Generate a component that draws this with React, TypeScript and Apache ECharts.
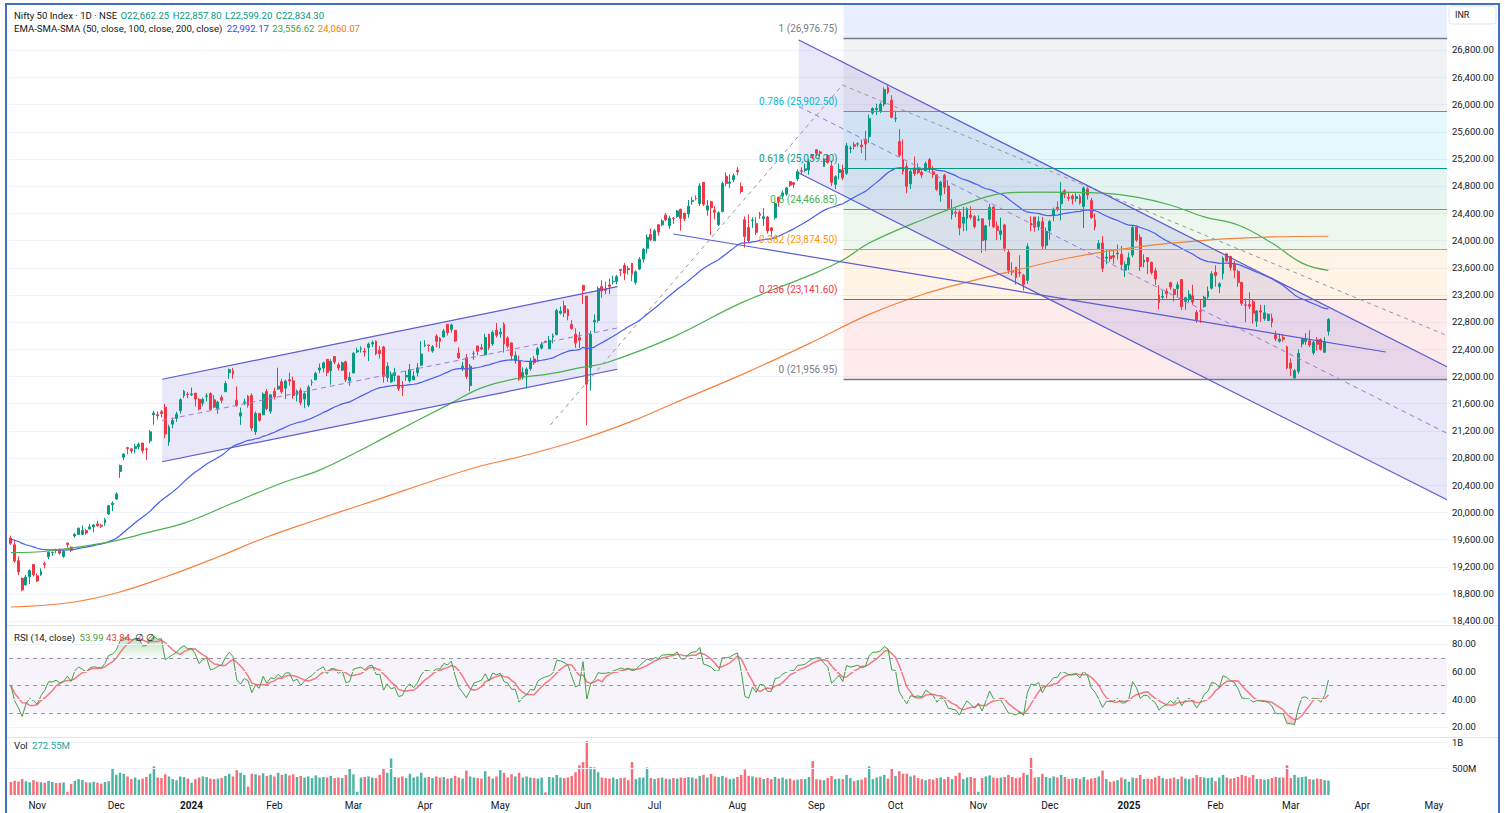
import React, { useEffect, useRef } from 'react';
import * as echarts from 'echarts';

// ---------------- data ----------------
const HOLIDAYS = [
  '2023-10-24', '2023-11-14', '2023-11-27', '2023-12-25',
  '2024-01-22', '2024-01-26', '2024-03-08', '2024-03-25', '2024-03-29', '2024-04-11', '2024-04-17',
  '2024-05-01', '2024-05-20', '2024-06-17', '2024-07-17', '2024-08-15', '2024-10-02', '2024-11-15',
  '2024-11-20', '2024-12-25',
  '2025-02-26', '2025-03-14', '2025-03-31', '2025-04-10', '2025-04-14', '2025-04-18', '2025-05-01',
];
const SPECIAL_SESSIONS = ['2023-11-12', '2024-01-20', '2024-03-02', '2024-05-18', '2025-02-01'];
const FIRST_DAY = '2023-10-20';
const LAST_AXIS_DAY = '2025-05-07';

// [open, close, low, high]
const OHLC: number[][] = [
  // Oct 2023
  [19620,19542,19518,19657],[19521,19282,19257,19593],[19286,19122,19075,19347],[19027,18857,18838,19041],
  [18929,19047,18926,19076],[19054,19141,18941,19158],[19232,19080,19057,19233],
  // Nov 2023
  [19064,18989,18973,19096],[19080,19133,19064,19175],[19241,19231,19175,19276],[19346,19412,19309,19423],
  [19405,19407,19359,19423],[19449,19443,19394,19464],[19457,19395,19378,19463],[19351,19425,19329,19451],
  [19547,19525,19480,19547],[19487,19443,19414,19495],[19651,19675,19623,19693],[19674,19765,19667,19775],
  [19674,19732,19674,19806],[19731,19694,19670,19756],[19754,19784,19742,19825],[19784,19812,19703,19825],
  [19828,19802,19785,19875],[19809,19795,19768,19832],[19844,19890,19800,19916],[19976,20097,19958,20104],
  [20109,20133,20015,20158],
  // Dec 2023
  [20194,20268,20183,20292],[20601,20687,20507,20702],[20809,20855,20767,20864],[20950,20937,20852,20961],
  [20932,20901,20867,20941],[20935,20969,20862,21006],[20966,20997,20923,21026],[21019,20906,20867,21019],
  [20929,20926,20769,20950],[21049,21183,21014,21210],[21434,21457,21287,21492],[21434,21419,21366,21482],
  [21477,21453,21395,21505],[21544,21150,21088,21593],[21034,21255,20977,21289],[21296,21349,21235,21390],
  [21381,21441,21330,21478],[21497,21655,21451,21675],[21716,21778,21679,21801],[21737,21731,21677,21770],
  // Jan 2024
  [21727,21742,21710,21834],[21752,21665,21555,21755],[21661,21518,21500,21677],[21605,21658,21564,21685],
  [21706,21711,21629,21750],[21747,21513,21492,21763],[21653,21545,21530,21724],[21529,21619,21449,21641],
  [21689,21647,21603,21726],[21773,21895,21773,21929],[22053,22097,21964,22115],[22080,22032,21964,22124],
  [21648,21572,21550,21851],[21414,21462,21285,21540],[21615,21622,21575,21671],[21707,21572,21539,21726],
  [21716,21239,21193,21750],[21185,21454,21137,21482],[21454,21353,21330,21459],[21433,21738,21431,21763],
  [21775,21522,21501,21813],[21487,21726,21448,21742],
  // Feb 2024
  [21781,21698,21659,21832],[21812,21854,21805,22127],[21921,21772,21742,21964],[21825,21929,21665,21951],
  [21950,21931,21860,22054],[21933,21718,21669,21996],[21727,21783,21629,21804],[21790,21616,21574,21831],
  [21664,21743,21530,21766],[21578,21840,21548,21870],[21907,21911,21860,21953],[21949,22041,21941,22069],
  [22093,22122,22045,22187],[22120,22197,22057,22216],[22249,22055,22005,22249],[22081,22218,21875,22252],
  [22291,22213,22180,22297],[22170,22122,22085,22202],[22090,22198,22075,22218],[22214,21951,21915,22229],
  [21935,21983,21860,22060],
  // Mar 2024
  [22048,22339,22048,22353],[22359,22379,22340,22420],[22403,22406,22348,22440],[22371,22356,22289,22416],
  [22423,22474,22224,22497],[22476,22494,22430,22526],[22517,22333,22309,22527],[22382,22335,22259,22446],
  [22432,21998,21906,22447],[21982,22147,21917,22205],[21917,22023,21905,22071],[22013,22056,21922,22125],
  [22005,21818,21783,22005],[21843,21839,21710,21930],[21989,22012,21932,22080],[21932,22097,21906,22180],
  [21947,22005,21947,22074],[22053,22124,21997,22193],[22163,22327,22150,22516],
  // Apr 2024
  [22455,22462,22428,22530],[22458,22453,22364,22470],[22371,22434,22347,22460],[22592,22515,22427,22620],
  [22556,22514,22412,22577],[22579,22666,22568,22698],[22765,22643,22600,22768],[22690,22754,22645,22775],
  [22677,22519,22503,22677],[22340,22272,22259,22427],[22125,22148,22079,22213],[22272,21996,21962,22326],
  [21862,22147,21777,22180],[22336,22336,22244,22376],[22447,22368,22306,22447],[22421,22402,22386,22476],
  [22316,22570,22305,22625],[22620,22419,22385,22620],[22475,22643,22446,22675],[22679,22604,22573,22783],
  // May 2024
  [22624,22648,22568,22711],[22767,22476,22348,22795],[22562,22442,22409,22588],[22489,22302,22232,22500],
  [22231,22303,22186,22369],[22224,21958,21932,22307],[21990,22055,21950,22131],[22028,22104,21822,22131],
  [22112,22218,22081,22271],[22255,22201,22170,22297],[22319,22404,22213,22432],[22415,22466,22395,22503],
  [22513,22502,22490,22525],[22405,22529,22404,22592],[22577,22597,22484,22630],[22615,22967,22600,22994],
  [22930,22957,22908,23026],[23039,22932,22871,23111],[22977,22888,22824,22998],[22763,22704,22685,22825],
  [22617,22488,22418,22705],[22568,22531,22417,22652],
  // Jun 2024
  [23338,23264,23062,23339],[23179,21884,21281,23180],[22128,22620,21791,22670],[22798,22821,22642,22911],
  [22821,23290,22789,23321],[23319,23259,23155,23412],[23284,23265,23207,23390],[23344,23323,23207,23441],
  [23390,23399,23354,23481],[23398,23466,23353,23490],[23570,23558,23473,23579],[23630,23516,23413,23665],
  [23586,23567,23497,23624],[23661,23501,23398,23667],[23382,23538,23350,23558],[23578,23721,23562,23754],
  [23723,23869,23673,23889],[23882,24044,23805,24087],[24085,24010,23986,24174],
  // Jul 2024
  [23993,24141,23992,24164],[24229,24124,24072,24236],[24228,24286,24207,24309],[24370,24302,24281,24401],
  [24213,24324,24168,24363],[24329,24321,24241,24344],[24351,24433,24331,24444],[24459,24324,24142,24461],
  [24400,24316,24283,24403],[24388,24502,24332,24593],[24572,24587,24523,24636],[24615,24613,24587,24662],
  [24543,24801,24505,24838],[24853,24531,24504,24854],[24445,24509,24362,24595],[24568,24479,24075,24582],
  [24444,24414,24308,24504],[24230,24406,24210,24426],[24423,24835,24410,24862],[24943,24836,24798,24999],
  [24839,24857,24771,24971],[24890,24951,24857,24984],
  // Aug 2024
  [25030,25011,24957,25078],[24789,24718,24686,24851],[24302,24056,23893,24350],[24190,23993,23960,24382],
  [24289,24297,24184,24337],[24248,24117,24079,24340],[24387,24368,24317,24419],[24320,24347,24212,24472],
  [24343,24139,24100,24359],[24184,24144,24049,24196],[24334,24541,24304,24563],[24636,24573,24494,24638],
  [24649,24698,24607,24734],[24680,24771,24654,24787],[24864,24811,24784,24868],[24846,24823,24772,24858],
  [24906,25010,24874,25043],[25024,25017,24973,25073],[25030,25052,25000,25129],[25035,25152,24965,25193],
  [25249,25236,25196,25268],
  // Sep 2024
  [25333,25279,25236,25333],[25300,25280,25235,25321],[25089,25198,25084,25216],[25250,25145,25127,25260],
  [25094,24852,24801,25168],[24823,24936,24753,24958],[24999,25041,24897,25130],[25035,24918,24885,25113],
  [24986,25389,24963,25433],[25352,25357,25285,25391],[25406,25384,25336,25445],[25416,25419,25376,25441],
  [25402,25377,25285,25482],[25488,25416,25176,25611],[25525,25791,25431,25849],[25873,25939,25848,25956],
  [25922,25940,25847,26011],[25899,26004,25871,26032],[26005,26216,25969,26250],[26248,26179,26151,26277],
  [26061,25811,25794,26135],
  // Oct 2024
  [25788,25797,25739,25907],[25452,25250,25230,25639],[25181,25015,24966,25486],[25085,24796,24694,25143],
  [24832,25013,24756,25044],[25066,24982,24947,25234],[25067,24998,24973,25134],[25002,24964,24920,25028],
  [25023,25128,25018,25159],[25187,25057,25008,25213],[25008,24971,24920,25093],[24963,24750,24728,24969],
  [24665,24854,24568,24877],[24956,24781,24680,24978],[24799,24472,24446,24882],[24378,24435,24307,24605],
  [24412,24399,24342,24480],[24418,24181,24074,24440],[24251,24339,24135,24492],[24323,24467,24141,24485],
  [24372,24341,24307,24498],[24349,24205,24173,24372],
  // Nov 2024
  [24302,24304,24280,24368],[24316,23995,23817,24316],[24005,24213,23843,24229],[24309,24484,24205,24537],
  [24489,24199,24179,24503],[24207,24148,24004,24276],[24087,24141,24004,24336],[24226,23883,23839,24242],
  [23822,23559,23509,23873],[23542,23533,23484,23675],[23606,23453,23350,23606],[23529,23518,23464,23780],
  [23488,23349,23263,23507],[23412,23907,23359,23956],[24254,24222,24135,24352],[24343,24194,24125,24343],
  [24204,24275,24146,24354],[24274,23914,23874,24345],[23927,24131,23873,24188],
  // Dec 2024
  [24140,24276,24009,24302],[24367,24457,24280,24481],[24488,24467,24422,24573],[24539,24708,24295,24857],
  [24729,24677,24620,24751],[24633,24619,24580,24705],[24652,24610,24528,24677],[24615,24641,24567,24691],
  [24642,24548,24527,24675],[24498,24768,24180,24792],[24753,24668,24601,24781],[24584,24336,24316,24625],
  [24297,24198,24149,24394],[23878,23952,23870,24004],[23961,23588,23537,24066],[23738,23753,23647,23869],
  [23769,23728,23685,23867],[23775,23750,23654,23854],[23801,23813,23717,23938],[23796,23645,23561,23915],
  [23561,23645,23460,23689],
  // Jan 2025
  [23637,23743,23562,23822],[23783,24189,23751,24226],[24196,24005,23976,24196],[24045,23616,23552,24089],
  [23680,23707,23602,23795],[23746,23689,23503,23751],[23675,23527,23496,23689],[23551,23432,23344,23596],
  [23195,23086,22987,23340],[23165,23176,23134,23264],[23250,23213,23147,23293],[23377,23312,23272,23391],
  [23277,23203,23100,23292],[23290,23345,23170,23391],[23422,23025,22976,23426],[23099,23155,22981,23169],
  [23129,23206,23090,23270],[23183,23092,23051,23347],[22941,22829,22786,22974],[22961,22957,22786,23137],
  [23027,23163,23011,23183],[23169,23250,23140,23322],[23296,23508,23278,23546],
  // Feb 2025
  [23528,23482,23318,23633],[23319,23361,23223,23382],[23509,23739,23423,23762],[23802,23696,23680,23807],
  [23761,23603,23556,23773],[23649,23560,23443,23695],[23543,23382,23316,23568],[23383,23072,23041,23390],
  [23050,23046,22798,23145],[23055,23031,22992,23236],[23097,22929,22774,23134],[22810,22960,22726,22975],
  [22963,22945,22801,23050],[22848,22933,22815,23050],[22821,22913,22812,22923],[22857,22796,22721,22923],
  [22609,22553,22518,22668],[22516,22548,22494,22626],[22568,22545,22508,22613],[22433,22125,22105,22450],
  // Mar 2025
  [22194,22119,22004,22262],[21974,22083,21965,22106],[22073,22337,22037,22394],[22476,22545,22425,22556],
  [22509,22553,22464,22633],[22522,22461,22430,22676],[22345,22498,22315,22523],[22536,22471,22377,22578],
  [22541,22397,22377,22558],[22353,22509,22353,22577],[22662.25,22834.30,22599.20,22857.80],
];

// Volume, millions
const VOLUME_M: number[] = [
  245,270,255,300,260,240,280,
  250,240,230,265,245,225,230,235,60,210,270,300,285,240,235,250,230,215,245,260,510,
  380,420,400,350,300,330,290,310,340,400,540,330,320,390,350,300,280,350,340,310,
  230,300,330,350,340,310,300,310,320,360,400,350,470,420,380,160,400,390,370,410,360,380,
  350,420,380,400,370,390,340,360,330,350,320,370,330,340,330,360,320,330,320,380,510,
  390,60,330,340,350,330,320,380,510,420,690,340,330,350,320,400,330,350,420,
  330,340,320,350,330,340,310,320,360,330,310,460,350,330,320,310,450,350,310,350,
  470,420,330,390,350,420,330,350,330,320,310,330,50,340,330,380,330,320,330,360,430,560,
  620,1020,530,520,430,330,320,310,330,300,320,330,280,620,300,330,330,520,320,
  300,320,330,310,300,320,310,330,320,340,330,310,360,380,330,400,350,340,360,330,300,310,
  340,380,480,360,350,330,330,300,320,300,340,310,330,300,310,280,290,300,300,340,640,
  300,290,280,320,360,300,310,300,380,320,260,280,290,330,540,300,330,350,380,310,500,
  360,450,400,400,350,370,320,300,280,300,290,320,330,300,340,300,360,420,300,330,340,320,
  60,320,350,370,330,320,330,340,380,340,320,330,420,380,700,330,340,400,340,
  320,350,330,380,340,300,310,320,300,340,290,310,320,350,460,300,250,260,280,330,300,
  250,330,320,380,300,310,300,330,360,320,300,310,330,300,350,310,300,320,380,340,330,320,330,
  260,330,380,330,310,320,340,380,360,330,380,300,300,290,300,320,340,330,330,560,
  320,380,330,340,350,300,290,310,300,280,272.55,
];

// Moving averages: [bar index, value]
const EMA50_SEED = 19600;
const SMA100_PTS: number[][] = [
  [0,19405],[10,19430],[26,19560],[37,19710],[46,19840],[59,20135],[72,20430],[82,20620],[93,20915],
  [99,21090],[117,21605],[125,21830],[135,21975],[143,22035],[152,22135],[158,22195],[176,22580],
  [194,23080],[212,23480],[221,23710],[228,23960],[242,24300],[255,24565],[264,24695],[273,24710],
  [290,24695],[299,24635],[308,24520],[317,24345],[326,24225],[335,23960],[343,23665],[350,23557],
];
const SMA200_PTS: number[][] = [
  [0,18606],[15,18665],[28,18812],[41,19047],[55,19342],[68,19636],[81,19886],[93,20107],[122,20636],
  [135,20813],[151,21063],[165,21340],[176,21600],[194,22020],[212,22480],[228,22910],[242,23200],
  [255,23400],[264,23520],[281,23740],[299,23900],[317,24000],[335,24050],[350,24060],
];
const RSI_SEED_GAIN = 35;
const RSI_SEED_LOSS = 35;
const RSI_MA_LEN = 5;

// Drawings: [bar index, price]
const RISE_UPPER = [[40.2, 21956], [161.1, 23318]];
const RISE_LOWER = [[40.2, 20743], [161.1, 22103]];
const DESC_UPPER = [[209.3, 26947], [381.5, 22140]];
const DESC_LOWER = [[209.3, 24990], [381.5, 20183]];
const NECK_LINE = [[176.0, 24093], [365.2, 22357]];
const TREND_UP = [[143.3, 21283], [220.9, 26285]];
const TREND_DOWN = [[220.9, 26285], [381.5, 22600]];
const FIB_START = 221.2;
const FIB_END = 381.5;
const FIB_LEVELS: [string, number, string][] = [
  ['1', 26976.75, '#787b86'],
  ['0.786', 25902.50, '#00bcd4'],
  ['0.618', 25059.20, '#089981'],
  ['0.5', 24466.85, '#4caf50'],
  ['0.382', 23874.50, '#ff9800'],
  ['0.236', 23141.60, '#f23645'],
  ['0', 21956.95, '#787b86'],
];
const PRICE_TICKS = [18400,18800,19200,19600,20000,20400,20800,21200,21600,22000,22400,22800,23200,23600,24000,24400,24800,25200,25600,26000,26400,26800];
const RSI_TICKS = [20, 40, 60, 80];
const VOL_TICKS = [5e8, 1e9];

const LEGEND_OHLC = ['O22,662.25', 'H22,857.80', 'L22,599.20', 'C22,834.30'];
const LEGEND_MA = ['22,992.17', '23,556.62', '24,060.07'];
const LEGEND_RSI = ['53.99', '43.84'];
const LEGEND_VOL = '272.55M';

// ---------------- helpers ----------------
const FONT = 'Roboto, "Noto Sans", Arial, sans-serif';
const MONTHS = ['Jan','Feb','Mar','Apr','May','Jun','Jul','Aug','Sep','Oct','Nov','Dec'];

function buildDates(): string[] {
  const hol = new Set(HOLIDAYS);
  const spc = new Set(SPECIAL_SESSIONS);
  const out: string[] = [];
  const [y0, m0, d0] = FIRST_DAY.split('-').map(Number);
  const [y1, m1, d1] = LAST_AXIS_DAY.split('-').map(Number);
  const d = new Date(Date.UTC(y0, m0 - 1, d0));
  const end = Date.UTC(y1, m1 - 1, d1);
  while (d.getTime() <= end) {
    const s = d.toISOString().slice(0, 10);
    const wd = d.getUTCDay();
    if ((wd >= 1 && wd <= 5 && !hol.has(s)) || spc.has(s)) out.push(s);
    d.setUTCDate(d.getUTCDate() + 1);
  }
  return out;
}

const fmt2 = (v: number) => v.toLocaleString('en-US', { minimumFractionDigits: 2, maximumFractionDigits: 2 });

export default function App() {
  const ref = useRef<HTMLDivElement>(null);

  useEffect(() => {
    if (!ref.current) return;
    const chart = echarts.init(ref.current, undefined, { renderer: 'svg' });

    const dates = buildDates();
    const n = OHLC.length;
    const closes = OHLC.map(r => r[1]);

    const firstOfMonth: boolean[] = dates.map((s, i) => i === 0 ? false : s.slice(0, 7) !== dates[i - 1].slice(0, 7));

    // EMA 50
    const K = 2 / 51;
    let e = EMA50_SEED;
    const ema = closes.map((c, i) => { if (i > 0) e = e + K * (c - e); return e; });

    // RSI 14 (Wilder) + its moving average
    let g = RSI_SEED_GAIN, l = RSI_SEED_LOSS;
    const rsi = closes.map((c, i) => {
      if (i > 0) {
        const ch = c - closes[i - 1];
        g = (g * 13 + Math.max(ch, 0)) / 14;
        l = (l * 13 + Math.max(-ch, 0)) / 14;
      }
      return 100 - 100 / (1 + g / l);
    });
    const rsiMa = rsi.map((_, i) => {
      const s = Math.max(0, i - (RSI_MA_LEN - 1));
      const seg = rsi.slice(s, i + 1);
      return seg.reduce((a, b) => a + b, 0) / seg.length;
    });

    const UP = '#089981', DOWN = '#f23645';
    const volData = VOLUME_M.map((v, i) => ({
      value: v * 1e6,
      itemStyle: { color: OHLC[i][1] >= OHLC[i][0] ? 'rgba(8,153,129,0.72)' : 'rgba(242,54,69,0.72)' },
    }));

    const GRID_LEFT = 9, GRID_RIGHT = 58;
    const axisCommon = {
      type: 'category', data: dates, boundaryGap: true,
      axisLine: { show: false }, axisTick: { show: false }, splitLine: { show: false },
    };
    const yLabel = { color: '#131722', fontSize: 9.5, fontFamily: FONT, margin: 5 };
    const LF = 9.6;

    const option: any = {
      animation: false,
      backgroundColor: '#ffffff',
      grid: [
        { left: GRID_LEFT, right: GRID_RIGHT, top: 5, height: 620 },
        { left: GRID_LEFT, right: GRID_RIGHT, top: 626, height: 111 },
        { left: GRID_LEFT, right: GRID_RIGHT, top: 738, height: 57 },
      ],
      xAxis: [
        { ...axisCommon, gridIndex: 0, axisLabel: { show: false } },
        { ...axisCommon, gridIndex: 1, axisLabel: { show: false } },
        {
          ...axisCommon, gridIndex: 2,
          axisLabel: {
            show: true, color: '#131722', fontSize: 10, fontFamily: FONT, margin: 5,
            interval: (i: number) => firstOfMonth[i],
            formatter: (v: string) => {
              const m = Number(v.slice(5, 7));
              return m === 1 ? `{y|${v.slice(0, 4)}}` : MONTHS[m - 1];
            },
            rich: { y: { fontWeight: 'bold', fontSize: 10, fontFamily: FONT, color: '#131722' } },
          },
        },
      ],
      yAxis: [
        {
          type: 'value', gridIndex: 0, position: 'right', min: 18341, max: 27462, scale: true,
          axisLine: { show: false }, axisTick: { show: false }, splitLine: { show: false },
          axisLabel: { ...yLabel, customValues: PRICE_TICKS, formatter: (v: number) => fmt2(v) },
        },
        {
          type: 'value', gridIndex: 1, position: 'right', min: 12.77, max: 93.0,
          axisLine: { show: false }, axisTick: { show: false }, splitLine: { show: false },
          axisLabel: { ...yLabel, customValues: RSI_TICKS, formatter: (v: number) => v.toFixed(2) },
        },
        {
          type: 'value', gridIndex: 2, position: 'right', min: 0, max: 1.0755e9,
          axisLine: { show: false }, axisTick: { show: false }, splitLine: { show: false },
          axisLabel: { ...yLabel, customValues: VOL_TICKS, formatter: (v: number) => v >= 1e9 ? '1B' : `${v / 1e6}M` },
        },
      ],
      series: [
        {
          type: 'candlestick', name: 'Nifty', xAxisIndex: 0, yAxisIndex: 0, z: 3, silent: true,
          data: OHLC, barWidth: '64%',
          itemStyle: { color: UP, color0: DOWN, borderColor: UP, borderColor0: DOWN, borderWidth: 1 },
          markLine: {
            silent: true, symbol: 'none',
            data: [{
              yAxis: closes[n - 1],
              lineStyle: { opacity: 0 },
              label: {
                show: true, position: 'end', distance: 1, formatter: fmt2(closes[n - 1]),
                backgroundColor: '#157a63', color: '#ffffff', fontSize: 9.5, fontFamily: FONT, padding: [2, 4, 2, 4],
              },
            }],
          },
        },
        {
          type: 'line', name: 'EMA50', xAxisIndex: 0, yAxisIndex: 0, z: 4, silent: true,
          data: ema, symbol: 'none', lineStyle: { color: '#4a5cf0', width: 1.2 },
        },
        {
          type: 'line', name: 'SMA100', xAxisIndex: 0, yAxisIndex: 0, z: 4, silent: true,
          data: SMA100_PTS, symbol: 'none', smooth: 0.4, lineStyle: { color: '#4caf50', width: 1.2 },
        },
        {
          type: 'line', name: 'SMA200', xAxisIndex: 0, yAxisIndex: 0, z: 4, silent: true,
          data: SMA200_PTS, symbol: 'none', smooth: 0.4, lineStyle: { color: '#f7803c', width: 1.2 },
        },
        // RSI pane
        {
          type: 'line', name: 'obBase', xAxisIndex: 1, yAxisIndex: 1, stack: 'ob', silent: true, z: 2,
          data: rsi.map(() => 70), symbol: 'none', lineStyle: { opacity: 0 },
        },
        {
          type: 'line', name: 'obFill', xAxisIndex: 1, yAxisIndex: 1, stack: 'ob', silent: true, z: 2,
          data: rsi.map(v => Math.max(0, v - 70)), symbol: 'none', lineStyle: { opacity: 0 },
          areaStyle: { color: new echarts.graphic.LinearGradient(0, 0, 0, 1, [{ offset: 0, color: 'rgba(76,175,80,0.55)' }, { offset: 1, color: 'rgba(76,175,80,0.05)' }]) },
        },
        {
          type: 'line', name: 'osBase', xAxisIndex: 1, yAxisIndex: 1, stack: 'os', silent: true, z: 2,
          data: rsi.map(v => Math.min(v, 30)), symbol: 'none', lineStyle: { opacity: 0 },
        },
        {
          type: 'line', name: 'osFill', xAxisIndex: 1, yAxisIndex: 1, stack: 'os', silent: true, z: 2,
          data: rsi.map(v => 30 - Math.min(v, 30)), symbol: 'none', lineStyle: { opacity: 0 },
          areaStyle: { color: new echarts.graphic.LinearGradient(0, 0, 0, 1, [{ offset: 0, color: 'rgba(242,54,69,0.05)' }, { offset: 1, color: 'rgba(242,54,69,0.45)' }]) },
        },
        {
          type: 'line', name: 'RSI', xAxisIndex: 1, yAxisIndex: 1, silent: true, z: 4,
          data: rsi, symbol: 'none', lineStyle: { color: '#43a047', width: 1 },
          markArea: { silent: true, itemStyle: { color: 'rgba(126,87,194,0.07)' }, data: [[{ yAxis: 30 }, { yAxis: 70 }]] },
          markLine: {
            silent: true, symbol: 'none', label: { show: false },
            lineStyle: { color: '#9598a1', type: [4, 4], width: 1 },
            data: [{ yAxis: 70 }, { yAxis: 50 }, { yAxis: 30 }],
          },
        },
        {
          type: 'line', name: 'RSI MA', xAxisIndex: 1, yAxisIndex: 1, silent: true, z: 3,
          data: rsiMa, symbol: 'none', lineStyle: { color: '#f47a84', width: 1.5 },
          markLine: {
            silent: true, symbol: 'none', label: { show: false },
            lineStyle: { color: '#f0f3fa', type: 'solid', width: 1 },
            data: RSI_TICKS.map(v => ({ yAxis: v })),
          },
        },
        // Volume pane
        {
          type: 'bar', name: 'Vol', xAxisIndex: 2, yAxisIndex: 2, silent: true, barWidth: '66%',
          data: volData,
          markLine: {
            silent: true, symbol: 'none', label: { show: false },
            lineStyle: { color: '#f0f3fa', type: 'solid', width: 1 },
            data: VOL_TICKS.map(v => ({ yAxis: v })),
          },
        },
      ],
    };

    chart.setOption(option);

    // ----- drawings placed through the chart's own scales -----
    const x0 = chart.convertToPixel({ xAxisIndex: 0 }, 0) as number;
    const x1 = chart.convertToPixel({ xAxisIndex: 0 }, 1) as number;
    const band = x1 - x0;
    const X = (i: number) => x0 + i * band;
    const Y = (v: number) => chart.convertToPixel({ yAxisIndex: 0 }, v) as number;
    const gridTop = Y(27462);
    const gridRight = X(FIB_END);
    const gridLeft = X(-0.5);

    const CH = '#5b5bd0';
    const CH_FILL = 'rgba(94,94,214,0.14)';
    const MID = '#a07ad8';
    const g0: any[] = []; // behind candles
    const g1: any[] = []; // above candles

    PRICE_TICKS.forEach(v => {
      const y = Math.round(Y(v)) + 0.5;
      g0.push({ type: 'line', z: 0, silent: true, shape: { x1: gridLeft, y1: y, x2: gridRight, y2: y }, style: { stroke: '#f0f3fa', lineWidth: 1 } });
    });
    const xf = X(FIB_START);
    const yl = FIB_LEVELS.map(f => Math.round(Y(f[1])));
    g0.push({ type: 'rect', z: 0, silent: true, shape: { x: xf, y: gridTop, width: gridRight - xf, height: yl[0] - gridTop }, style: { fill: 'rgba(41,98,255,0.1)' } });
    for (let k = 0; k < FIB_LEVELS.length - 1; k++) {
      g0.push({
        type: 'rect', z: 0, silent: true,
        shape: { x: xf, y: yl[k], width: gridRight - xf, height: yl[k + 1] - yl[k] },
        style: { fill: echarts.color.modifyAlpha(FIB_LEVELS[k][2], 0.1) },
      });
    }
    const poly = (up: number[][], lo: number[][]) => ({
      type: 'polygon', z: 0, silent: true,
      shape: { points: [[X(up[0][0]), Y(up[0][1])], [X(up[1][0]), Y(up[1][1])], [X(lo[1][0]), Y(lo[1][1])], [X(lo[0][0]), Y(lo[0][1])]] },
      style: { fill: CH_FILL },
    });
    g0.push(poly(RISE_UPPER, RISE_LOWER));
    g0.push(poly(DESC_UPPER, DESC_LOWER));

    const seg = (a: number[], b: number[], stroke: string, dash?: number[], w = 1.2) => ({
      type: 'line', z: 10, silent: true,
      shape: { x1: X(a[0]), y1: Y(a[1]), x2: X(b[0]), y2: Y(b[1]) },
      style: { stroke, lineWidth: w, lineDash: dash },
    });
    const mid = (up: number[][], lo: number[][]) => [
      [up[0][0], (up[0][1] + lo[0][1]) / 2],
      [up[1][0], (up[1][1] + lo[1][1]) / 2],
    ];
    FIB_LEVELS.forEach(([lab, v, col], k) => {
      const y = yl[k] + 0.5;
      g1.push({ type: 'line', z: 10, silent: true, shape: { x1: xf, y1: y, x2: gridRight, y2: y }, style: { stroke: col, lineWidth: (lab === '1' || lab === '0') ? 1.6 : 1 } });
      g1.push({
        type: 'text', z: 11, silent: true, x: xf - 6, y: y - 10,
        style: { text: `${lab} (${fmt2(v)})`, fill: col, fontSize: 10, fontFamily: FONT, align: 'right', verticalAlign: 'middle' },
      });
    });
    g1.push(seg(TREND_UP[0], TREND_UP[1], '#9598a1', [4, 4], 1));
    g1.push(seg(TREND_DOWN[0], TREND_DOWN[1], '#9598a1', [4, 4], 1));
    g1.push(seg(RISE_UPPER[0], RISE_UPPER[1], CH));
    g1.push(seg(RISE_LOWER[0], RISE_LOWER[1], CH));
    const rm = mid(RISE_UPPER, RISE_LOWER);
    g1.push(seg(rm[0], rm[1], MID, [5, 4], 1));
    g1.push(seg(DESC_UPPER[0], DESC_UPPER[1], CH));
    g1.push(seg(DESC_LOWER[0], DESC_LOWER[1], CH));
    const dm = mid(DESC_UPPER, DESC_LOWER);
    g1.push(seg(dm[0], dm[1], MID, [5, 4], 1));
    g1.push(seg(NECK_LINE[0], NECK_LINE[1], CH));

    const chrome: any[] = [
      { type: 'line', silent: true, z: 50, shape: { x1: 6, y1: 625.5, x2: 1499, y2: 625.5 }, style: { stroke: '#e0e3eb', lineWidth: 1 } },
      { type: 'line', silent: true, z: 50, shape: { x1: 6, y1: 737.5, x2: 1499, y2: 737.5 }, style: { stroke: '#e0e3eb', lineWidth: 1 } },
      {
        type: 'text', silent: true, z: 60, x: 14, y: 15,
        style: {
          text: `{t|Nifty 50 Index · 1D · NSE} ${LEGEND_OHLC.map(s => `{v|${s}}`).join(' ')}`,
          fontSize: LF, fontFamily: FONT, verticalAlign: 'middle',
          rich: { t: { fill: '#131722', fontSize: LF, fontFamily: FONT }, v: { fill: '#089981', fontSize: LF, fontFamily: FONT, padding: [0, 0, 0, 1] } },
        },
      },
      {
        type: 'text', silent: true, z: 60, x: 14, y: 28,
        style: {
          text: `{t|EMA-SMA-SMA (50, close, 100, close, 200, close)} {b|${LEGEND_MA[0]}} {g|${LEGEND_MA[1]}} {o|${LEGEND_MA[2]}}`,
          fontSize: LF, fontFamily: FONT, verticalAlign: 'middle',
          rich: {
            t: { fill: '#131722', fontSize: LF, fontFamily: FONT },
            b: { fill: '#2f49f0', fontSize: LF, fontFamily: FONT, padding: [0, 0, 0, 2] },
            g: { fill: '#43a047', fontSize: LF, fontFamily: FONT, padding: [0, 0, 0, 1] },
            o: { fill: '#f57c00', fontSize: LF, fontFamily: FONT, padding: [0, 0, 0, 1] },
          },
        },
      },
      {
        type: 'text', silent: true, z: 60, x: 14, y: 637,
        style: {
          text: `{t|RSI (14, close)} {g|${LEGEND_RSI[0]}} {r|${LEGEND_RSI[1]}}  {t|∅} {t|∅}`,
          fontSize: LF, fontFamily: FONT, verticalAlign: 'middle',
          rich: {
            t: { fill: '#131722', fontSize: LF, fontFamily: FONT },
            g: { fill: '#43a047', fontSize: LF, fontFamily: FONT, padding: [0, 0, 0, 2] },
            r: { fill: '#f23645', fontSize: LF, fontFamily: FONT },
          },
        },
      },
      {
        type: 'text', silent: true, z: 60, x: 14, y: 745,
        style: {
          text: `{t|Vol} {v|${LEGEND_VOL}}`,
          fontSize: LF, fontFamily: FONT, verticalAlign: 'middle',
          rich: { t: { fill: '#131722', fontSize: LF, fontFamily: FONT }, v: { fill: '#26a69a', fontSize: LF, fontFamily: FONT, padding: [0, 0, 0, 2] } },
        },
      },
      { type: 'rect', silent: true, z: 60, shape: { x: 1449, y: 6, width: 47, height: 18, r: 3 }, style: { fill: '#ffffff', stroke: '#e0e3eb', lineWidth: 1 } },
      { type: 'text', silent: true, z: 61, x: 1455, y: 15, style: { text: 'INR', fill: '#131722', fontSize: 9, fontFamily: FONT, verticalAlign: 'middle' } },
      { type: 'rect', silent: true, z: 100, shape: { x: 6, y: 4, width: 1493, height: 812 }, style: { fill: 'none', stroke: '#3f70c2', lineWidth: 2 } },
    ];

    chart.setOption({ graphic: [...g0, ...g1, ...chrome] });
    return () => chart.dispose();
  }, []);

  return (
    <div
      ref={ref}
      style={{ position: 'absolute', left: 0, top: 0, width: 1505, height: 813, background: '#ffffff' }}
    />
  );
}
